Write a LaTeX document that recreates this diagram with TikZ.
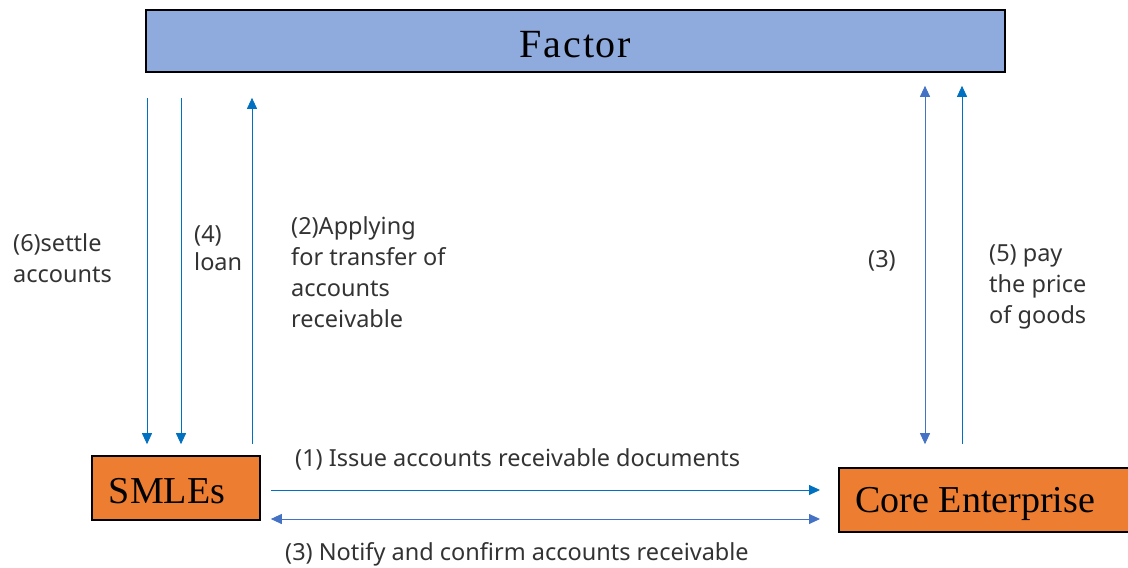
\documentclass[tikz,border=0pt]{standalone}
\usepackage{fontspec}
\setmainfont{Liberation Serif}
\newfontfamily\labelfont{Noto Sans}
\newfontfamily\factorfont[LetterSpace=4.5]{Liberation Serif}
\usetikzlibrary{arrows.meta}
\definecolor{factorfill}{HTML}{8FAADC}
\definecolor{orangefill}{HTML}{ED7D31}
\definecolor{darkblue}{HTML}{0070C0}
\definecolor{midblue}{HTML}{4472C4}
\definecolor{labeltext}{HTML}{333333}
\tikzset{
  party/.style={draw=black, line width=1.6pt, fill=orangefill, inner sep=0pt,
    font=\fontsize{38}{40}\selectfont, text depth=0pt},
  flow/.style={line width=0.9pt, draw=darkblue,
    -{Triangle[width=10pt,length=11pt]}},
  flowlight/.style={flow, draw=midblue, fill=midblue},
  both/.style={flowlight, {Triangle[width=10pt,length=11pt]}-{Triangle[width=10pt,length=11pt]}},
  lbl/.style={text=labeltext, align=left, inner sep=0pt, anchor=base west,
    font=\labelfont\fontsize{23.5}{31}\selectfont},
}
\begin{document}
\begin{tikzpicture}[x=1pt,y=-1pt]
\useasboundingbox (0,0) rectangle (1128,568);

% the three parties
\node[draw=black, line width=1.6pt, fill=factorfill, minimum width=859pt,
  minimum height=62pt, inner sep=0pt, text height=32pt, text depth=0pt] (factor) at (575.5,41)
  {\factorfont\fontsize{40}{40}\selectfont Factor};
\node[party, minimum width=168pt, minimum height=64pt, text height=30pt] (smles) at (176,488)
  {\hspace*{-18pt}SMLEs};
\node[party, minimum width=292pt, minimum height=64pt, text height=25pt, anchor=west] (core) at (838,500)
  {\hspace*{-19pt}Core Enterprise};

% flows between SMLEs and the factor
\draw[flow, shorten <=25pt, shorten >=11pt] (147,0 |- factor.south) -- (147,0 |- smles.north);
\draw[flow, shorten <=25pt, shorten >=11pt] (181,0 |- factor.south) -- (181,0 |- smles.north);
\draw[flow, shorten <=11pt, shorten >=25pt] (252,0 |- smles.north) -- (252,0 |- factor.south);

% flows between the core enterprise and the factor
\draw[both, shorten <=13pt, shorten >=23pt] (925,0 |- factor.south) -- (925,0 |- core.north);
\draw[flow, shorten <=23pt, shorten >=13pt] (962,0 |- core.north) -- (962,0 |- factor.south);

% flows between SMLEs and the core enterprise
\draw[flow, shorten <=10pt, shorten >=18pt] (smles.east |- 0,490) -- (core.west |- 0,490);
\draw[both, shorten <=10pt, shorten >=18pt] (smles.east |- 0,519) -- (core.west |- 0,519);

% labels (anchored at the baseline of their last line)
\node[lbl] (l6) at (13,282) {(6)settle\\accounts};
\node[lbl] (l4) at (194,270) {(4)\\[-3pt]loan};
\node[lbl] (l2) at (291,327) {(2)Applying\\for transfer of\\accounts\\receivable};
\node[lbl] (l3v) at (868,267) {(3)};
\node[lbl] (l5) at (989,323) {(5) pay\\the price\\of goods};
\node[lbl] (l1) at (295,466) {(1) Issue accounts receivable documents};
\node[lbl] (l3h) at (285,560) {(3) Notify and confirm accounts receivable};
\end{tikzpicture}
\end{document}
